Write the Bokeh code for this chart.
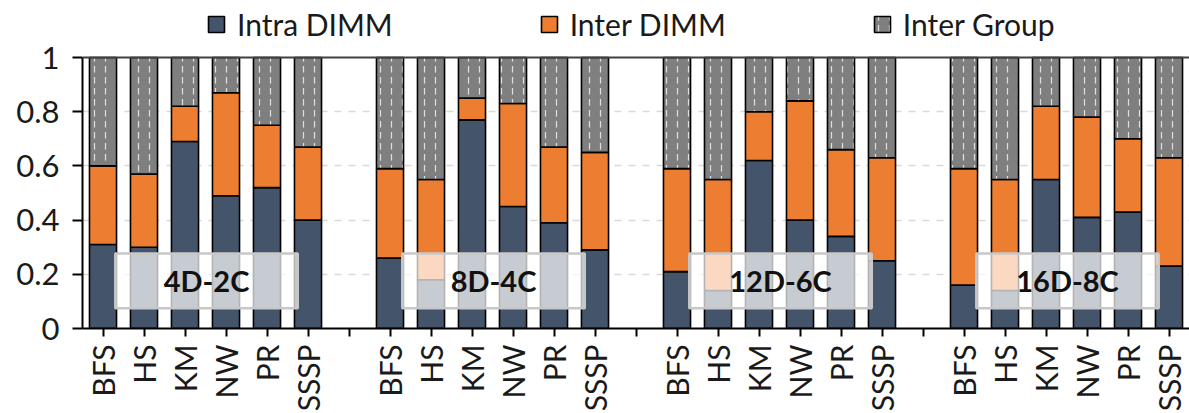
import math
from bokeh.plotting import figure
from bokeh.models import (Range1d, FixedTicker, Span, Legend, LegendItem,
                          ColumnDataSource)
from bokeh.embed import file_html
from bokeh.resources import INLINE
from bokeh.core.properties import value

# ---------------- data ----------------
workloads = ["BFS", "HS", "KM", "NW", "PR", "SSSP"]
configs = ["4D-2C", "8D-4C", "12D-6C", "16D-8C"]

intra_dimm = {
    "4D-2C":  [0.31, 0.30, 0.69, 0.49, 0.52, 0.40],
    "8D-4C":  [0.26, 0.18, 0.77, 0.45, 0.39, 0.29],
    "12D-6C": [0.21, 0.14, 0.62, 0.40, 0.34, 0.25],
    "16D-8C": [0.16, 0.14, 0.55, 0.41, 0.43, 0.23],
}
inter_dimm = {
    "4D-2C":  [0.29, 0.27, 0.13, 0.38, 0.23, 0.27],
    "8D-4C":  [0.33, 0.37, 0.08, 0.38, 0.28, 0.36],
    "12D-6C": [0.38, 0.41, 0.18, 0.44, 0.32, 0.38],
    "16D-8C": [0.43, 0.41, 0.27, 0.37, 0.27, 0.40],
}
inter_group = {
    "4D-2C":  [0.40, 0.43, 0.18, 0.13, 0.25, 0.33],
    "8D-4C":  [0.41, 0.45, 0.15, 0.17, 0.33, 0.35],
    "12D-6C": [0.41, 0.45, 0.20, 0.16, 0.34, 0.37],
    "16D-8C": [0.41, 0.45, 0.18, 0.22, 0.30, 0.37],
}
y_ticks = [0, 0.2, 0.4, 0.6, 0.8, 1]

series_names = ["Intra DIMM", "Inter DIMM", "Inter Group"]
series_data = [intra_dimm, inter_dimm, inter_group]

# ---------------- styling ----------------
FONT = "Lato"
C_INTRA = "#44546a"
C_INTER = "#ed7d31"
C_GROUP = "#7f7f7f"
SLOTS_PER_GROUP = len(workloads) + 1
n_slots = SLOTS_PER_GROUP * len(configs) - 1

xs, labels = [], {}
for g, cfg in enumerate(configs):
    for i, w in enumerate(workloads):
        xs.append(g * SLOTS_PER_GROUP + i)
        labels[g * SLOTS_PER_GROUP + i] = w
    if g < len(configs) - 1:
        labels[g * SLOTS_PER_GROUP + len(workloads)] = ""

PLOT_H = 271          # pixels from 0 to 1
TOP_SPACE = 57        # pixels above 1 (legend room, inside frame)
y_top = 1 + TOP_SPACE / PLOT_H

p = figure(frame_width=1107, frame_height=PLOT_H + TOP_SPACE,
           output_backend="svg", toolbar_location=None,
           x_range=Range1d(-0.5, n_slots - 0.5), y_range=Range1d(0, y_top),
           min_border_left=82, min_border_top=0, min_border_right=0,
           min_border_bottom=0)
p.outline_line_color = None
p.background_fill_color = "white"

bottoms = [0.0] * len(xs)
renderers = []
for name, data, color in zip(series_names, series_data,
                             [C_INTRA, C_INTER, C_GROUP]):
    vals = [v for cfg in configs for v in data[cfg]]
    tops = [b + v for b, v in zip(bottoms, vals)]
    src = ColumnDataSource(dict(x=xs, bottom=bottoms, top=tops))
    kw = {}
    if name == "Inter Group":
        kw = dict(hatch_pattern=":", hatch_color="white", hatch_scale=11,
                  hatch_weight=1.2, hatch_alpha=0.75)
    r = p.vbar(x="x", bottom="bottom", top="top", width=0.66, source=src,
               fill_color=color, line_color="black", line_width=1.6, **kw)
    renderers.append(r)
    bottoms = tops

box_l = [g * SLOTS_PER_GROUP + 0.3 for g in range(len(configs))]
box_r = [g * SLOTS_PER_GROUP + 4.75 for g in range(len(configs))]
p.quad(left=box_l, right=box_r, bottom=[0.075] * 4, top=[0.277] * 4,
       fill_color="white", fill_alpha=0.7, line_color="#c8c8c8",
       line_width=2.5)
p.text(x=[(l + r) / 2 for l, r in zip(box_l, box_r)], y=[0.176] * 4,
       text=configs, text_font=value(FONT), text_font_style="bold",
       text_font_size="29px", text_align="center", text_baseline="middle",
       text_color="#111111")

p.add_layout(Span(location=1.0, dimension="width", line_color="#404040",
                  line_width=2))

p.yaxis.ticker = FixedTicker(ticks=y_ticks)
p.yaxis.bounds = (0, 1)
p.yaxis.major_label_overrides = {0: "0", 1: "1"}
p.yaxis.axis_line_color = "black"
p.yaxis.axis_line_width = 2
p.yaxis.major_tick_out = 10
p.yaxis.major_tick_in = 0
p.yaxis.major_tick_line_width = 2
p.yaxis.minor_tick_line_color = None
p.yaxis.major_label_standoff = 13
p.yaxis.major_label_text_font = FONT
p.yaxis.major_label_text_font_size = "31px"
p.yaxis.major_label_text_color = "#1a1a1a"

p.xaxis.ticker = FixedTicker(ticks=list(range(n_slots)))
p.xaxis.major_label_overrides = labels
p.xaxis.major_label_orientation = math.pi / 2
p.xaxis.axis_line_color = "black"
p.xaxis.axis_line_width = 2
p.xaxis.major_tick_out = 8
p.xaxis.major_tick_in = 0
p.xaxis.major_tick_line_width = 2
p.xaxis.minor_tick_line_color = None
p.xaxis.major_label_standoff = 8
p.xaxis.major_label_text_font = FONT
p.xaxis.major_label_text_font_size = "30px"
p.xaxis.major_label_text_color = "#1a1a1a"

p.xgrid.grid_line_color = None
p.ygrid.ticker = FixedTicker(ticks=[0.2, 0.4, 0.6, 0.8])
p.ygrid.grid_line_color = "#d9d9d9"
p.ygrid.grid_line_dash = "7 7"
p.ygrid.grid_line_width = 1.5

legend = Legend(items=[LegendItem(label=n, renderers=[r])
                       for n, r in zip(series_names, renderers)],
                orientation="horizontal", location=(118, 280),
                spacing=146, glyph_width=20, glyph_height=20,
                label_standoff=11, label_text_font=FONT,
                label_text_font_size="30px", label_text_color="#1a1a1a",
                border_line_alpha=0, background_fill_alpha=0,
                margin=0, padding=6)
p.add_layout(legend, "center")

open("out.html", "w").write(file_html(p, INLINE))
